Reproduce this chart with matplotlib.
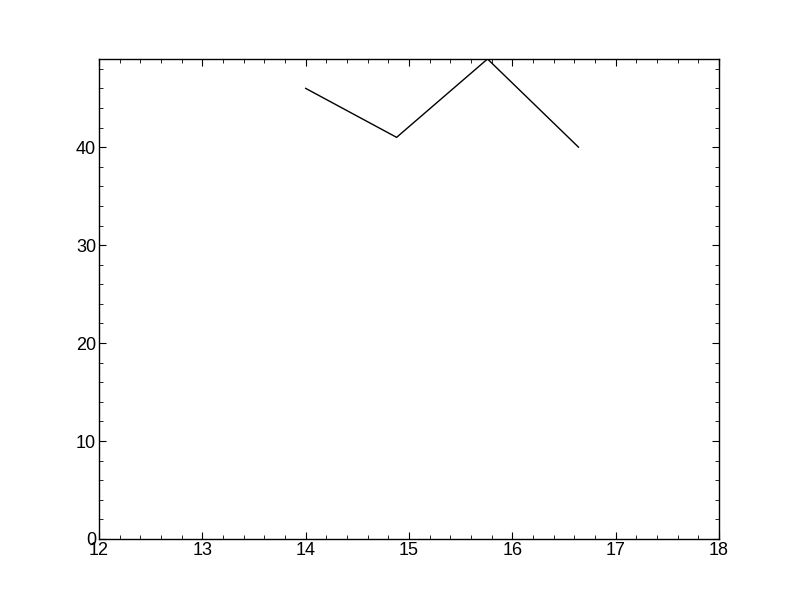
import matplotlib
matplotlib.use("Agg")
import matplotlib.pyplot as plt
from matplotlib.ticker import AutoMinorLocator

plt.rcParams['font.family'] = ['Liberation Sans', 'DejaVu Sans']

x_vals = [14.0, 14.88, 15.76, 16.64]
y_vals = [46, 41, 49, 40]

fig = plt.figure(figsize=(8, 6), dpi=100)
ax = fig.add_axes([0.12375, 0.1017, 0.775, 0.8])
ax.plot(x_vals, y_vals, color='black', linewidth=1)

ax.set_xlim(12, 18)
ax.set_ylim(0, 49)
ax.set_xticks([12, 13, 14, 15, 16, 17, 18])
ax.set_yticks([0, 10, 20, 30, 40])
ax.xaxis.set_minor_locator(AutoMinorLocator(5))
ax.yaxis.set_minor_locator(AutoMinorLocator(5))
ax.tick_params(which='both', direction='in', top=True, right=True, labelsize=13, pad=2)
ax.tick_params(which='major', length=5)
ax.tick_params(which='minor', length=3)
for s in ax.spines.values():
    s.set_linewidth(1)

fig.savefig('out.png', dpi=100)
